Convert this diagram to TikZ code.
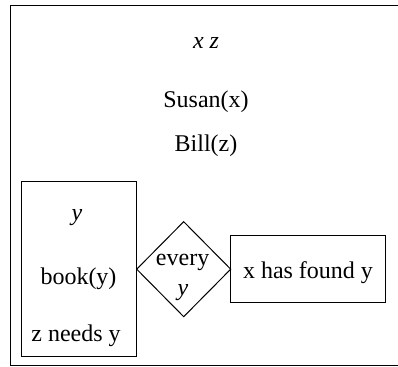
\documentclass[tikz,border=0pt]{standalone}
\usepackage{fontspec}
\setmainfont{Liberation Serif}
\usetikzlibrary{shapes.geometric}
\begin{document}
\begin{tikzpicture}[x=0.5pt,y=-0.5pt,
  lbl/.style={anchor=base, inner sep=0pt, font=\fontsize{12}{14}\selectfont},
  frame/.style={draw, line width=0.5pt, inner sep=0pt, outer sep=0pt},
  rhomb/.style={draw, line width=0.5pt, diamond, inner sep=0pt, outer sep=0pt}]
\useasboundingbox (0,0) rectangle (398,367);
% boxes
\node[frame, minimum width=195.25pt, minimum height=180pt] (outer) at (205.75,186) {};
\node[frame, minimum width=57.35pt, minimum height=87.5pt] (inner) at (79.35,269.2) {};
\node[rhomb, minimum width=47pt, minimum height=47.5pt] (quant) at (183.7,269.2) {};
\node[frame, minimum width=77.35pt, minimum height=33.15pt] (scope) at (308.35,269.15) {};
% texts
\node[lbl] (refs) at (206,48.3) {\textit{x z}};
\node[lbl] (susan) at (206,107.3) {Susan(x)};
\node[lbl] (bill) at (206,151.7) {Bill(z)};
\node[lbl] (iy) at (77,221) {\textit{y}};
\node[lbl] (book) at (78.5,285) {book(y)};
\node[lbl] (needs) at (76,341.7) {z needs y};
\node[lbl] (every) at (182.6,266) {every};
\node[lbl] (qy) at (183,296) {\textit{y}};
\node[lbl] (found) at (308,278.3) {x has found y};
\end{tikzpicture}
\end{document}
